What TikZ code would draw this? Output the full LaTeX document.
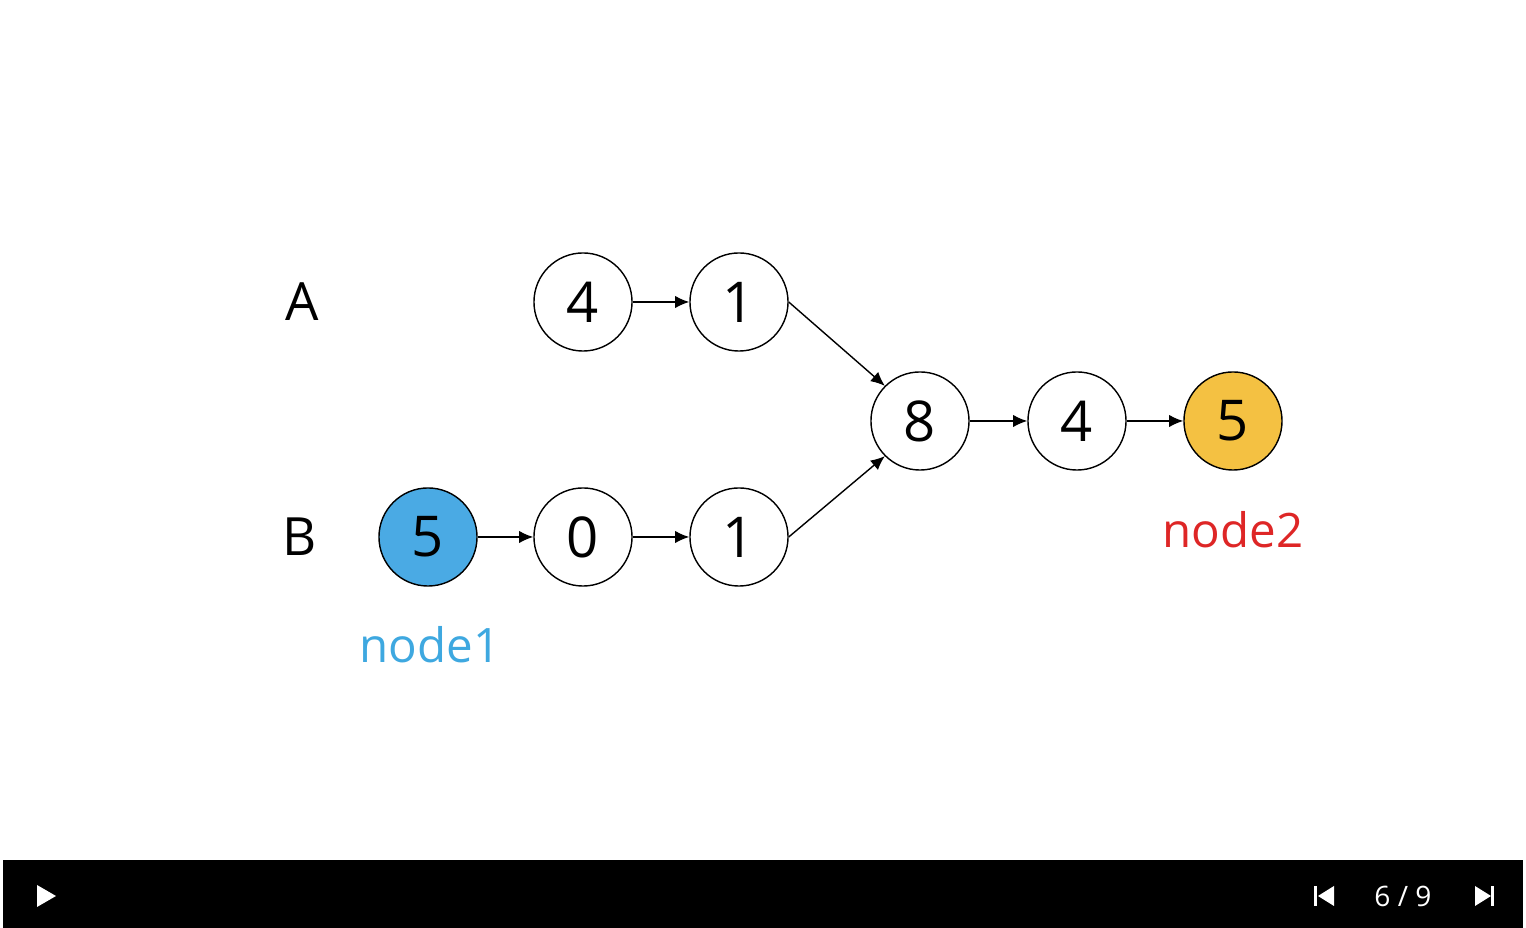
\documentclass[tikz,border=0pt]{standalone}
\usepackage{fontspec}
\setmainfont{Open Sans}
\usepackage{xcolor}
\usepackage{tikz}
\usetikzlibrary{arrows.meta}
\definecolor{nodeblue}{RGB}{74,170,228}
\definecolor{nodegold}{RGB}{244,193,66}
\definecolor{labelblue}{RGB}{62,168,224}
\definecolor{labelred}{RGB}{222,38,38}

\begin{document}
\begin{tikzpicture}[x=0.01cm, y=-0.01cm,
    elem/.style={circle, draw, thin, minimum size=0.98cm, inner sep=0pt, font=\fontsize{16}{16}\selectfont},
    link/.style={-{Latex[length=4pt,width=3.5pt]}, thin}]
    % Cadre
    \useasboundingbox (0,0) rectangle (1526,928);
    \fill[white] (0,0) rectangle (1526,928);

    % Listes A et B
    \node[font=\fontsize{15}{15}\selectfont] (lA) at (302,302) {A};
    \node[font=\fontsize{15}{15}\selectfont] (lB) at (300,537) {B};

    \node[elem] (a1) at (583,302) {4};
    \node[elem] (a2) at (739,302) {1};

    \node[elem, fill=nodeblue] (b1) at (428,537) {5};
    \node[elem] (b2) at (583,537) {0};
    \node[elem] (b3) at (739,537) {1};

    % Partie commune
    \node[elem] (c1) at (920,421) {8};
    \node[elem] (c2) at (1077,421) {4};
    \node[elem, fill=nodegold] (c3) at (1233,421) {5};

    % Liens
    \draw[link] (a1) -- (a2);
    \draw[link] (a2.east) -- (c1.north west);
    \draw[link] (b1) -- (b2);
    \draw[link] (b2) -- (b3);
    \draw[link] (b3.east) -- (c1.south west);
    \draw[link] (c1) -- (c2);
    \draw[link] (c2) -- (c3);

    % Etiquettes
    \node[text=labelblue, font=\fontsize{13.5}{13.5}\selectfont] (n1) at (430,645) {node1};
    \node[text=labelred, font=\fontsize{13.5}{13.5}\selectfont] (n2) at (1233,530) {node2};

    % Barre du lecteur
    \fill[black] (3,860) rectangle (1523,928);
    \fill[white] (37,885) -- (56,896) -- (37,907) -- cycle;
    \fill[white] (1314,886) rectangle (1317,906);
    \fill[white] (1334,886) -- (1318,896) -- (1334,906) -- cycle;
    \node[text=white, font=\fontsize{8}{8}\selectfont] (page) at (1403,896) {6 / 9};
    \fill[white] (1475,886) -- (1491,896) -- (1475,906) -- cycle;
    \fill[white] (1491,886) rectangle (1494,906);
\end{tikzpicture}
\end{document}
